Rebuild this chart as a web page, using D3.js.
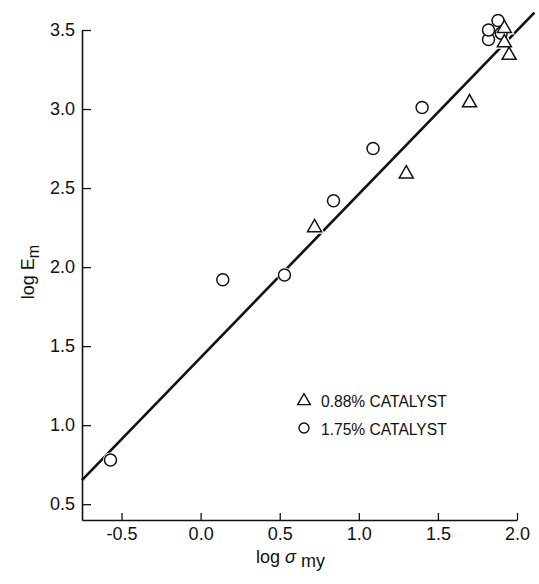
<!DOCTYPE html>
<html>
<head>
<meta charset="utf-8">
<script src="https://cdn.jsdelivr.net/npm/d3@7"></script>
<style>
  body { margin: 0; background: #fff; }
  text { font-family: "Liberation Sans", Arial, sans-serif; fill: #111; }
</style>
</head>
<body>
<div id="chart"></div>
<script>
// 1.75% catalyst (circles)
var circleX = [-0.57, 0.14, 0.53, 0.84, 1.09, 1.40, 1.82, 1.82, 1.88, 1.90];
var circleY = [0.78, 1.92, 1.95, 2.42, 2.75, 3.01, 3.44, 3.50, 3.56, 3.48];
// 0.88% catalyst (triangles)
var triX = [0.72, 1.30, 1.70, 1.92, 1.92, 1.95];
var triY = [2.25, 2.59, 3.04, 3.51, 3.42, 3.34];
// fitted line
var fitX = [-0.75, 2.11];
var fitY = [0.652, 3.61];

var xTicks = [-0.5, 0.0, 0.5, 1.0, 1.5, 2.0];
var yTicks = [0.5, 1.0, 1.5, 2.0, 2.5, 3.0, 3.5];
var legendLabels = ["0.88% CATALYST", "1.75% CATALYST"];

var width = 539;
var height = 584;

var svg = d3.select("#chart")
  .append("svg")
  .attr("width", width)
  .attr("height", height);

var x = d3.scaleLinear().domain([-0.75, 2.0]).range([82, 517]);
var y = d3.scaleLinear().domain([0.4, 3.5]).range([520, 30]);

function fmt(d) { return d.toFixed(1); }

var xAxis = svg.append("g")
  .attr("transform", "translate(0,520)")
  .call(d3.axisBottom(x).tickValues(xTicks).tickSize(-7).tickSizeOuter(0)
    .tickPadding(7).tickFormat(fmt));

var yAxis = svg.append("g")
  .attr("transform", "translate(82,0)")
  .call(d3.axisLeft(y).tickValues(yTicks).tickSize(-9).tickSizeOuter(0)
    .tickPadding(7).tickFormat(fmt));

[xAxis, yAxis].forEach(function(ax) {
  ax.select(".domain").attr("stroke", "#111").attr("stroke-width", 1.6);
  ax.selectAll(".tick line").attr("stroke", "#111").attr("stroke-width", 1.3);
  ax.selectAll(".tick text")
    .style("font-family", "'Liberation Sans', Arial, sans-serif")
    .style("font-size", "18px")
    .attr("fill", "#111");
});

// axis titles
var yt = svg.append("text")
  .attr("transform", "translate(34,272) rotate(-90)")
  .attr("text-anchor", "middle")
  .style("font-size", "18px");
yt.append("tspan").text("log E");
yt.append("tspan").attr("dy", 5).style("font-size", "16px").text("m");

var xt = svg.append("text")
  .attr("x", 256)
  .attr("y", 563)
  .style("font-size", "18px");
xt.append("tspan").text("log ");
xt.append("tspan").style("font-style", "italic").text("\u03c3");
xt.append("tspan").attr("dy", 4).text(" my");

// fitted line
var line = d3.line().x(function(d) { return x(d[0]); }).y(function(d) { return y(d[1]); });
svg.append("path")
  .datum(d3.zip(fitX, fitY))
  .attr("d", line)
  .attr("fill", "none")
  .attr("stroke", "#111")
  .attr("stroke-width", 2.6);

var circles = d3.zip(circleX, circleY);
var tris = d3.zip(triX, triY);
var triPath = d3.symbol().type(d3.symbolTriangle).size(85);

// white halos so the markers break the line
svg.selectAll(".halo-c").data(circles).enter().append("circle")
  .attr("cx", function(d) { return x(d[0]); })
  .attr("cy", function(d) { return y(d[1]); })
  .attr("r", 7.5)
  .attr("fill", "#fff");
svg.selectAll(".halo-t").data(tris).enter().append("path")
  .attr("d", triPath)
  .attr("transform", function(d) { return "translate(" + x(d[0]) + "," + y(d[1]) + ")"; })
  .attr("fill", "#fff")
  .attr("stroke", "#fff")
  .attr("stroke-width", 4);

svg.selectAll(".pt-c").data(circles).enter().append("circle")
  .attr("cx", function(d) { return x(d[0]); })
  .attr("cy", function(d) { return y(d[1]); })
  .attr("r", 6)
  .attr("fill", "#fff")
  .attr("stroke", "#111")
  .attr("stroke-width", 1.5);
svg.selectAll(".pt-t").data(tris).enter().append("path")
  .attr("d", triPath)
  .attr("transform", function(d) { return "translate(" + x(d[0]) + "," + y(d[1]) + ")"; })
  .attr("fill", "#fff")
  .attr("stroke", "#111")
  .attr("stroke-width", 1.5);

// legend
var legend = svg.append("g").attr("transform", "translate(304,0)");
legend.append("path")
  .attr("d", d3.symbol().type(d3.symbolTriangle).size(70))
  .attr("transform", "translate(0,401)")
  .attr("fill", "#fff").attr("stroke", "#111").attr("stroke-width", 1.4);
legend.append("circle")
  .attr("cx", 0).attr("cy", 428).attr("r", 5)
  .attr("fill", "#fff").attr("stroke", "#111").attr("stroke-width", 1.4);
legend.selectAll(".lab").data(legendLabels).enter().append("text")
  .attr("x", 17)
  .attr("y", function(d, i) { return 407 + i * 28; })
  .style("font-size", "15.6px")
  .text(function(d) { return d; });
</script>
</body>
</html>
